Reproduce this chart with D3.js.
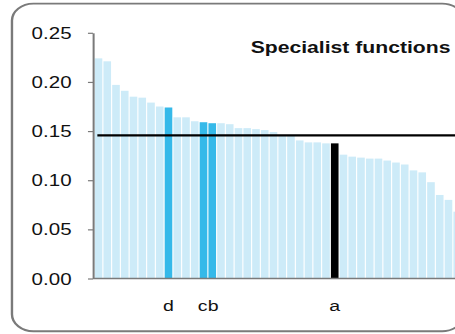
<!DOCTYPE html>
<html>
<head>
<meta charset="utf-8">
<script src="https://cdn.jsdelivr.net/npm/d3@7/dist/d3.min.js"></script>
<style>
  html, body { margin: 0; padding: 0; background: #fff; overflow: hidden; }
  svg { display: block; }
</style>
</head>
<body>
<script>
// ---- data ----
const values = [0.224, 0.221, 0.197, 0.191, 0.185, 0.184, 0.179, 0.175, 0.174, 0.164,
                0.164, 0.160, 0.159, 0.158, 0.158, 0.157, 0.153, 0.153, 0.152, 0.151,
                0.149, 0.145, 0.145, 0.1405, 0.1385, 0.1385, 0.1375, 0.1375, 0.126, 0.124,
                0.123, 0.122, 0.122, 0.120, 0.118, 0.116, 0.110, 0.108, 0.098, 0.085,
                0.080, 0.068];
const categories = values.map((v, i) => "F" + (i + 1));
const labels = ["", "", "", "", "", "", "", "", "d", "",
                "", "", "c", "b", "", "", "", "", "", "",
                "", "", "", "", "", "", "", "a", "", "",
                "", "", "", "", "", "", "", "", "", "",
                "", ""];
const yTicks = [0.00, 0.05, 0.10, 0.15, 0.20, 0.25];
const meanValue = 0.1456;
const title = "Specialist functions";

// ---- layout (drawn in a narrower space, stretched horizontally) ----
const PW = 455, PH = 334, SX = 1.26;
const W = PW / SX, H = PH;

const svg = d3.select("body").append("svg")
  .attr("width", PW).attr("height", PH)
  .attr("viewBox", `0 0 ${W} ${H}`)
  .attr("preserveAspectRatio", "none");

const FONT = "'Liberation Sans', Arial, Helvetica, sans-serif";
const axisX = 73.8;
const y = d3.scaleLinear().domain([0, 0.25]).range([278.5, 32.8]);
const step = 6.944;
const x0 = 74.7;
const x = d3.scaleBand().domain(categories)
  .range([x0, x0 + categories.length * step])
  .paddingInner(0.13).paddingOuter(0.065);

// frame
svg.append("rect")
  .attr("x", 9.5).attr("y", 3.6)
  .attr("width", 368 - 9.5).attr("height", 331.2 - 3.6)
  .attr("rx", 17).attr("ry", 17)
  .attr("fill", "none").attr("stroke", "#7a7a7a").attr("stroke-width", 1.9);

// bars
const colorOf = (i) => labels[i] === "a" ? "#000000" : (labels[i] ? "#35b9e9" : "#cdebf8");
svg.append("g").selectAll("rect").data(values).join("rect")
  .attr("x", (d, i) => x(categories[i]))
  .attr("width", x.bandwidth())
  .attr("y", d => y(d))
  .attr("height", d => y(0) - y(d))
  .attr("fill", (d, i) => colorOf(i));

// mean line
svg.append("line")
  .attr("x1", x(categories[0]) + x.bandwidth() * 0.35)
  .attr("x2", W + 5)
  .attr("y1", y(meanValue)).attr("y2", y(meanValue))
  .attr("stroke", "#000").attr("stroke-width", 2.3);

// y axis
const yAxis = svg.append("g")
  .attr("transform", `translate(${axisX},0)`)
  .call(d3.axisLeft(y).tickValues(yTicks).tickFormat(d3.format(".2f"))
        .tickSize(4).tickSizeOuter(0).tickPadding(13));
yAxis.select(".domain").attr("stroke", "#7a7a7a").attr("stroke-width", 1.6);
yAxis.selectAll(".tick line").attr("stroke", "#7a7a7a").attr("stroke-width", 1.2);
yAxis.selectAll(".tick text")
  .attr("font-family", FONT).attr("font-size", 16.3).attr("fill", "#111")
  .attr("dy", "0.34em");

// x axis (baseline + letter labels)
const xAxis = svg.append("g")
  .attr("transform", `translate(0,${y(0)})`)
  .call(d3.axisBottom(x).tickSize(0).tickPadding(22)
        .tickFormat((d, i) => labels[i]));
xAxis.select(".domain").remove();
xAxis.selectAll(".tick text")
  .attr("font-family", FONT).attr("font-size", 15.5).attr("fill", "#111")
  .attr("dx", (d, i) => labels[i] === "c" ? -0.75 : (labels[i] === "b" ? 0.75 : 0));
svg.append("line")
  .attr("x1", axisX).attr("x2", W + 5)
  .attr("y1", y(0)).attr("y2", y(0))
  .attr("stroke", "#7a7a7a").attr("stroke-width", 1.4);

// title
svg.append("text")
  .attr("x", 357.5).attr("y", 53.5)
  .attr("text-anchor", "end")
  .attr("font-family", FONT).attr("font-size", 16.8).attr("font-weight", "bold")
  .attr("fill", "#111")
  .text(title);
</script>
</body>
</html>
